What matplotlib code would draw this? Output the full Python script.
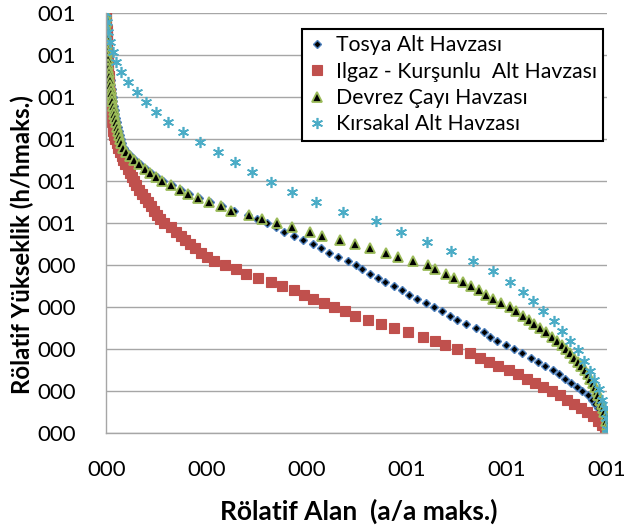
import matplotlib
matplotlib.use("Agg")
from matplotlib import pyplot as plt

# relative elevation levels (h/hmax) used by the first three basins
elev = [1.00, 0.99, 0.98, 0.97, 0.96, 0.95, 0.94, 0.93, 0.92, 0.91,
        0.90, 0.89, 0.88, 0.87, 0.86, 0.85, 0.84, 0.83, 0.82, 0.81,
        0.80, 0.79, 0.78, 0.77, 0.76, 0.75, 0.74, 0.73, 0.72, 0.71,
        0.70, 0.69, 0.68, 0.67, 0.66, 0.65, 0.64, 0.63, 0.62, 0.61,
        0.60, 0.59, 0.58, 0.57, 0.56, 0.55, 0.54, 0.53, 0.52, 0.51,
        0.50, 0.49, 0.48, 0.47, 0.46, 0.45, 0.44, 0.43, 0.42, 0.41,
        0.40, 0.39, 0.38, 0.37, 0.36, 0.35, 0.34, 0.33, 0.32, 0.31,
        0.30, 0.29, 0.28, 0.27, 0.26, 0.25, 0.24, 0.23, 0.22, 0.21,
        0.20, 0.19, 0.18, 0.17, 0.16, 0.15, 0.14, 0.13, 0.12, 0.11,
        0.10, 0.09, 0.08, 0.07, 0.06, 0.05, 0.04, 0.03, 0.02, 0.01,
        0.00]

tosya_area = [0.000, 0.000, 0.001, 0.001, 0.001, 0.002, 0.002, 0.003, 0.003, 0.004,
              0.004, 0.005, 0.005, 0.006, 0.007, 0.008, 0.009, 0.010, 0.011, 0.012,
              0.013, 0.014, 0.015, 0.017, 0.018, 0.020, 0.021, 0.023, 0.025, 0.027,
              0.029, 0.031, 0.035, 0.041, 0.049, 0.058, 0.068, 0.079, 0.089, 0.101,
              0.114, 0.131, 0.150, 0.166, 0.186, 0.207, 0.232, 0.256, 0.284, 0.302,
              0.321, 0.339, 0.356, 0.376, 0.394, 0.412, 0.428, 0.444, 0.463, 0.483,
              0.498, 0.511, 0.527, 0.542, 0.557, 0.574, 0.590, 0.605, 0.621, 0.639,
              0.655, 0.670, 0.686, 0.701, 0.719, 0.738, 0.755, 0.767, 0.780, 0.798,
              0.814, 0.831, 0.848, 0.862, 0.877, 0.892, 0.905, 0.917, 0.929, 0.941,
              0.951, 0.962, 0.970, 0.977, 0.983, 0.988, 0.993, 0.997, 0.999, 1.000,
              1.000]

ilgaz_area = [0.000, 0.000, 0.000, 0.000, 0.001, 0.001, 0.001, 0.002, 0.002, 0.002,
              0.003, 0.003, 0.003, 0.004, 0.004, 0.005, 0.005, 0.006, 0.006, 0.007,
              0.007, 0.008, 0.009, 0.009, 0.010, 0.011, 0.012, 0.013, 0.014, 0.016,
              0.018, 0.021, 0.024, 0.027, 0.031, 0.034, 0.038, 0.043, 0.047, 0.051,
              0.055, 0.060, 0.066, 0.072, 0.078, 0.083, 0.089, 0.095, 0.101, 0.108,
              0.116, 0.129, 0.139, 0.149, 0.158, 0.167, 0.178, 0.190, 0.201, 0.216,
              0.238, 0.259, 0.280, 0.304, 0.330, 0.352, 0.375, 0.396, 0.413, 0.434,
              0.455, 0.476, 0.496, 0.523, 0.549, 0.575, 0.603, 0.632, 0.656, 0.677,
              0.700, 0.726, 0.746, 0.765, 0.783, 0.804, 0.823, 0.840, 0.857, 0.873,
              0.890, 0.906, 0.920, 0.935, 0.948, 0.961, 0.972, 0.982, 0.990, 0.996,
              1.000]

devrez_area = [0.000, 0.000, 0.000, 0.000, 0.000, 0.000, 0.001, 0.001, 0.001, 0.002,
               0.002, 0.003, 0.003, 0.004, 0.005, 0.006, 0.007, 0.008, 0.009, 0.010,
               0.011, 0.012, 0.013, 0.015, 0.016, 0.018, 0.019, 0.021, 0.023, 0.025,
               0.027, 0.029, 0.033, 0.039, 0.047, 0.056, 0.066, 0.077, 0.087, 0.099,
               0.112, 0.129, 0.148, 0.164, 0.184, 0.205, 0.229, 0.250, 0.285, 0.311,
               0.342, 0.372, 0.406, 0.430, 0.466, 0.496, 0.527, 0.558, 0.583, 0.612,
               0.642, 0.657, 0.679, 0.695, 0.712, 0.728, 0.745, 0.758, 0.773, 0.789,
               0.806, 0.819, 0.832, 0.844, 0.855, 0.867, 0.879, 0.890, 0.900, 0.911,
               0.919, 0.927, 0.934, 0.942, 0.949, 0.956, 0.962, 0.967, 0.972, 0.976,
               0.980, 0.983, 0.987, 0.990, 0.993, 0.995, 0.998, 0.999, 1.000, 1.000,
               1.000]

kirsakal_elev = [1.000, 0.979, 0.955, 0.931, 0.907, 0.883, 0.860, 0.836, 0.812, 0.788,
                 0.764, 0.740, 0.717, 0.693, 0.669, 0.645, 0.621, 0.598, 0.574, 0.551,
                 0.527, 0.504, 0.480, 0.456, 0.433, 0.411, 0.385, 0.361, 0.337, 0.314,
                 0.290, 0.267, 0.243, 0.220, 0.197, 0.172, 0.149, 0.126, 0.104, 0.080,
                 0.059, 0.035, 0.011, 0.000]
kirsakal_area = [0.000, 0.001, 0.003, 0.008, 0.013, 0.020, 0.030, 0.044, 0.062, 0.080,
                 0.099, 0.124, 0.154, 0.188, 0.223, 0.257, 0.292, 0.330, 0.371, 0.418,
                 0.472, 0.538, 0.589, 0.641, 0.688, 0.733, 0.773, 0.806, 0.832, 0.853,
                 0.873, 0.894, 0.911, 0.926, 0.942, 0.955, 0.966, 0.975, 0.984, 0.991,
                 0.996, 0.999, 1.000, 1.000]

x_ticks = [0.0, 0.2, 0.4, 0.6, 0.8, 1.0]
x_tick_labels = ['000', '000', '000', '001', '001', '001']
y_ticks = [0.0, 0.1, 0.2, 0.3, 0.4, 0.5, 0.6, 0.7, 0.8, 0.9, 1.0]
y_tick_labels = ['000', '000', '000', '000', '000', '001', '001', '001', '001', '001', '001']

plt.rcParams['font.family'] = ['Lato', 'DejaVu Sans']

fig = plt.figure(figsize=(6.25, 5.25), dpi=100)
ax = fig.add_axes([0.170, 0.175, 0.801, 0.800])

ax.plot(tosya_area, elev, linestyle='none', marker='D', markersize=4.5,
        markerfacecolor='#000000', markeredgecolor='#4f81bd', markeredgewidth=1.0,
        label='Tosya Alt Havzası')
ax.plot(ilgaz_area, elev, linestyle='none', marker='s', markersize=7,
        markerfacecolor='#c0504d', markeredgecolor='#c0504d', markeredgewidth=0.8,
        label='Ilgaz - Kurşunlu  Alt Havzası')
ax.plot(devrez_area, elev, linestyle='none', marker='^', markersize=6.5,
        markerfacecolor='#000000', markeredgecolor='#9bbb59', markeredgewidth=1.3,
        label='Devrez Çayı Havzası')
ax.plot(kirsakal_area, kirsakal_elev, linestyle='none', marker=(6, 2, 0), markersize=8,
        markeredgecolor='#4bacc6', markeredgewidth=1.2,
        label='Kırsakal Alt Havzası')

ax.set_xlim(0, 1.0)
ax.set_ylim(0, 1.0)
ax.set_xticks(x_ticks)
ax.set_xticklabels(x_tick_labels)
ax.set_yticks(y_ticks)
ax.set_yticklabels(y_tick_labels)
ax.tick_params(axis='both', length=0, labelsize=16, colors='#000000')
ax.tick_params(axis='x', pad=19)
ax.tick_params(axis='y', pad=22)

ax.yaxis.grid(True, color='#a6a6a6', linewidth=1.0)
ax.set_axisbelow(True)
for side in ['top', 'right']:
    ax.spines[side].set_visible(False)
for side in ['left', 'bottom']:
    ax.spines[side].set_color('#a6a6a6')
    ax.spines[side].set_linewidth(1.0)

ax.set_xlabel('Rölatif Alan  (a/a maks.)', fontsize=19, fontweight='bold')
ax.set_ylabel('Rölatif Yükseklik (h/hmaks.)', fontsize=17.3, fontweight='bold')
ax.xaxis.set_label_coords(0.505, -0.155)
ax.yaxis.set_label_coords(-0.145, 0.448)

leg = ax.legend(loc='upper right', bbox_to_anchor=(0.965, 0.945),
                bbox_transform=fig.transFigure, fontsize=15.3, frameon=True,
                fancybox=False, edgecolor='#000000', framealpha=1.0,
                handlelength=0.8, handletextpad=0.5, labelspacing=0.3,
                borderpad=0.3, borderaxespad=0.0)
leg.get_frame().set_linewidth(1.5)

fig.savefig('out.png', dpi=100)
